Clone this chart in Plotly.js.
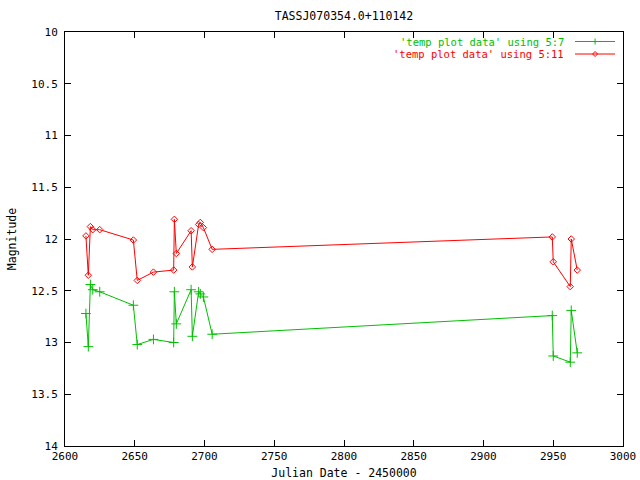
<!DOCTYPE html>
<html>
<head>
<meta charset="utf-8">
<script src="https://cdn.plot.ly/plotly-3.0.1.min.js"></script>
<style>html,body{margin:0;padding:0;background:#fff;}#chart{width:640px;height:480px;}</style>
</head>
<body>
<div id="chart"></div>
<script>
// Julian Date - 2450000
var jd = [2615.0, 2616.7, 2618.2, 2619.9, 2624.9, 2649.0, 2651.8, 2663.4, 2677.9, 2678.4, 2679.8,
          2690.4, 2691.3, 2695.8, 2697.0, 2699.2, 2705.5, 2949.3, 2950.0, 2962.2, 2962.9, 2967.2];
// column 7 magnitudes (green)
var mag57 = [12.72, 13.04, 12.44, 12.49, 12.51, 12.64, 13.02, 12.97, 13.00, 12.51, 12.82,
             12.49, 12.94, 12.51, 12.53, 12.56, 12.92, 12.74, 13.13, 13.19, 12.69, 13.10];
// column 11 magnitudes (red)
var mag511 = [11.97, 12.35, 11.88, 11.91, 11.91, 12.01, 12.40, 12.32, 12.30, 11.81, 12.14,
              11.92, 12.27, 11.86, 11.84, 11.89, 12.10, 11.98, 12.22, 12.46, 12.00, 12.30];
var seriesNames = ["'temp plot data' using 5:7", "'temp plot data' using 5:11"];
var xTicks = [2600, 2650, 2700, 2750, 2800, 2850, 2900, 2950, 3000];
var yTicks = [10, 10.5, 11, 11.5, 12, 12.5, 13, 13.5, 14];

var GREEN = '#00c000', RED = '#ff0000';
var FONT = 'DejaVu Sans Mono, Liberation Mono, monospace';

var traces = [
  {x: jd, y: mag57, name: seriesNames[0], mode: 'lines+markers', type: 'scatter',
   line: {color: GREEN, width: 1},
   marker: {symbol: 'cross-thin', size: 7, color: GREEN, line: {color: GREEN, width: 1}}},
  {x: jd, y: mag511, name: seriesNames[1], mode: 'lines+markers', type: 'scatter',
   line: {color: RED, width: 1},
   marker: {symbol: 'diamond-open', size: 5, color: RED, line: {color: RED, width: 1}}}
];

// legend drawn gnuplot-style: text right-aligned, sample line at right
var legY = [(446 - 41.5) / 414, (446 - 54) / 414];
var colors = [GREEN, RED];
var annotations = [];
var shapes = [];
for (var i = 0; i < 2; i++) {
  annotations.push({xref: 'paper', yref: 'paper', x: 0.896, y: legY[i], xanchor: 'right', yanchor: 'middle',
    text: seriesNames[i], showarrow: false, borderpad: 0,
    font: {family: FONT, size: 10.5, color: colors[i]}});
  shapes.push({type: 'line', xref: 'paper', yref: 'paper', x0: 0.914, x1: 0.9857, y0: legY[i], y1: legY[i],
    line: {color: colors[i], width: 1}});
}
shapes.push({type: 'line', xref: 'paper', yref: 'paper', xsizemode: 'pixel', ysizemode: 'pixel',
  xanchor: 0.95, yanchor: legY[0], x0: 0, x1: 0, y0: -3, y1: 3, line: {color: GREEN, width: 1}});
shapes.push({type: 'path', xref: 'paper', yref: 'paper', xsizemode: 'pixel', ysizemode: 'pixel',
  xanchor: 0.95, yanchor: legY[1], path: 'M0,2.5 L2.5,0 L0,-2.5 L-2.5,0 Z', line: {color: RED, width: 1}});

var layout = {
  width: 640, height: 480,
  paper_bgcolor: '#ffffff', plot_bgcolor: '#ffffff',
  margin: {l: 65, r: 17, t: 32, b: 34, pad: 0},
  font: {family: FONT, size: 11, color: '#000'},
  showlegend: false,
  title: {text: 'TASSJ070354.0+110142', x: 0.5, xref: 'paper', y: 1 - 16/480, yref: 'container',
          yanchor: 'middle', font: {family: FONT, size: 11.5, color: '#000'}},
  xaxis: {range: [2600, 3000], tickvals: xTicks, ticks: 'inside', ticklen: 6, tickcolor: '#000',
          showline: true, linecolor: '#000', linewidth: 1, mirror: 'allticks', showgrid: false,
          zeroline: false, tickfont: {family: FONT, size: 11},
          title: {text: 'Julian Date - 2450000', standoff: 6, font: {family: FONT, size: 11.5}}},
  yaxis: {range: [14, 10], tickvals: yTicks, ticks: 'inside', ticklen: 6, tickcolor: '#000',
          showline: true, linecolor: '#000', linewidth: 1, mirror: 'allticks', showgrid: false,
          zeroline: false, tickfont: {family: FONT, size: 11}, ticklabelstandoff: 4,
          title: {text: 'Magnitude', standoff: 12, font: {family: FONT, size: 11.5}}},
  annotations: annotations,
  shapes: shapes
};

Plotly.newPlot('chart', traces, layout, {displayModeBar: false, staticPlot: true});
</script>
</body>
</html>
